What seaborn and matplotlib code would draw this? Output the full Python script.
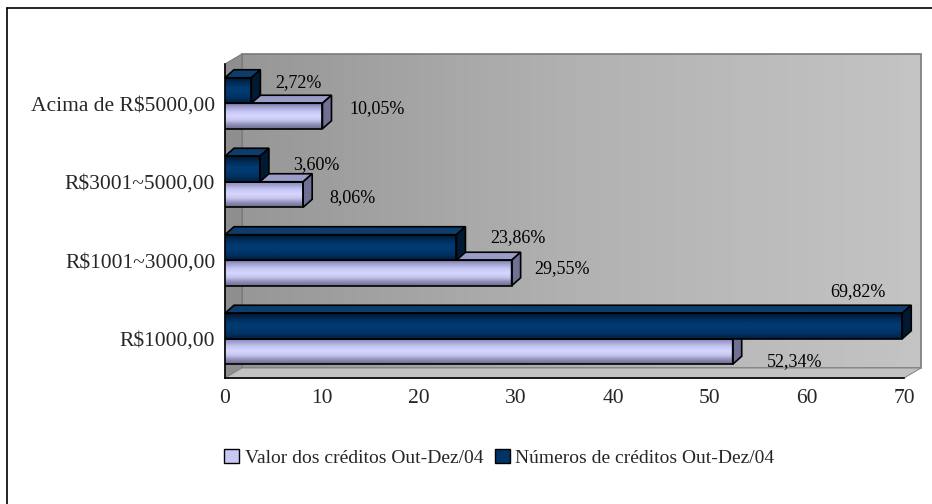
import numpy as np
import pandas as pd
import matplotlib
matplotlib.use("Agg")
import matplotlib.pyplot as plt
import seaborn as sns
from matplotlib.patches import Polygon, Rectangle, Patch
from matplotlib.colors import LinearSegmentedColormap
from matplotlib.transforms import IdentityTransform

# ---------------- data ----------------
categories = ["Acima de R$5000,00", "R$3001~5000,00", "R$1001~3000,00", "R$1000,00"]
series_valor = "Valor dos créditos Out-Dez/04"
series_numeros = "Números de créditos Out-Dez/04"
valor = [10.05, 8.06, 29.55, 52.34]
numeros = [2.72, 3.60, 23.86, 69.82]
valor_labels = ["10,05%", "8,06%", "29,55%", "52,34%"]
numeros_labels = ["2,72%", "3,60%", "23,86%", "69,82%"]
x_ticks = [0, 10, 20, 30, 40, 50, 60, 70]

df = pd.DataFrame({
    "cat": categories * 2,
    "val": numeros + valor,
    "serie": [series_numeros] * 4 + [series_valor] * 4,
})

# ---------------- style ----------------
sns.set_theme(style="white")
plt.rcParams["font.family"] = ["Liberation Serif", "DejaVu Serif"]

W, H, DPI = 932, 504, 100
fig = plt.figure(figsize=(W / DPI, H / DPI), dpi=DPI)
fig.patch.set_facecolor("white")

# plot-area geometry in pixels (image coords, y down)
AX_L, AX_R, AX_T, AX_B = 225, 904, 64, 378
DEPTH_X, DEPTH_Y = 17, 10

# background axes in pixel coordinates for 3D wall / floor
bg = fig.add_axes([0, 0, 1, 1], zorder=0)
bg.set_xlim(0, W)
bg.set_ylim(H, 0)
bg.axis("off")

wall_cmap = LinearSegmentedColormap.from_list("wall", ["#979797", "#b2b2b2", "#c4c4c4"])
grad = np.linspace(0, 1, 256).reshape(1, -1)
bg.imshow(grad, extent=[AX_L + DEPTH_X, AX_R + DEPTH_X, AX_B - DEPTH_Y, AX_T - DEPTH_Y],
          cmap=wall_cmap, aspect="auto", zorder=1)
bg.add_patch(Rectangle((AX_L + DEPTH_X, AX_T - DEPTH_Y), AX_R - AX_L, AX_B - AX_T,
                       fill=False, edgecolor="#7a7a7a", lw=1.2, zorder=2))
# left side wall
bg.add_patch(Polygon([(AX_L, AX_T), (AX_L + DEPTH_X, AX_T - DEPTH_Y),
                      (AX_L + DEPTH_X, AX_B - DEPTH_Y), (AX_L, AX_B)],
                     closed=True, facecolor="#8e8e8e", edgecolor="#7a7a7a", lw=0.8, zorder=2))
# floor
bg.add_patch(Polygon([(AX_L, AX_B), (AX_R, AX_B), (AX_R + DEPTH_X, AX_B - DEPTH_Y),
                      (AX_L + DEPTH_X, AX_B - DEPTH_Y)],
                     closed=True, facecolor="#c2c2c2", edgecolor="#8a8a8a", lw=0.8, zorder=2))
# chart-area border (top and left)
bg.plot([7, W], [8, 8], color="black", lw=1.2, zorder=3)
bg.plot([7, 7], [8, H], color="black", lw=1.2, zorder=3)

# main axes
ax = fig.add_axes([AX_L / W, 1 - AX_B / H, (AX_R - AX_L) / W, (AX_B - AX_T) / H], zorder=1)
ax.patch.set_visible(False)

light = "#c8c8f5"
dark = "#003366"
sns.barplot(data=df, y="cat", x="val", hue="serie", order=categories,
            hue_order=[series_numeros, series_valor],
            palette=[dark, light], width=0.65, orient="h", ax=ax,
            legend=False, edgecolor="black", linewidth=1.2, saturation=1)

ax.set_xlim(0, 70)
ax.set_ylim(3.5, -0.5)
ax.set_xticks(x_ticks)
ax.set_xticklabels([str(t) for t in x_ticks], fontsize=15.5)
ax.set_yticks(range(len(categories)))
ax.set_yticklabels(categories, fontsize=15.5)
ax.set_yticks(np.arange(-0.5, len(categories), 1.0), minor=True)
ax.tick_params(axis="y", which="major", length=0, pad=7)
ax.tick_params(axis="y", which="minor", length=6, width=1, color="black", direction="out")
ax.tick_params(axis="x", which="major", length=5, width=1, color="black", direction="out", pad=3)
ax.set_xlabel("")
ax.set_ylabel("")
for s in ["top", "right"]:
    ax.spines[s].set_visible(False)
for s in ["left", "bottom"]:
    ax.spines[s].set_color("black")
    ax.spines[s].set_linewidth(1.2)
ax.grid(False)

light_cmap = LinearSegmentedColormap.from_list(
    "lb", ["#7e7eaa", "#a6a6d6", "#c8c8f6", "#d6d6ff", "#c4c4ee", "#9090b8", "#6c6c90"])
dark_cmap = LinearSegmentedColormap.from_list(
    "db", ["#00152c", "#002a55", "#003a70", "#003a72", "#00315f", "#001f3f"])

vgrad = np.linspace(0, 1, 64).reshape(-1, 1)
BX, BY = 9, 8  # bar depth in pixels

bars = list(ax.patches)
fig.canvas.draw()
ident = IdentityTransform()

for p in bars:
    x0, y0, w, h = p.get_x(), p.get_y(), p.get_width(), p.get_height()
    if w <= 0:
        continue
    yc = y0 + h / 2
    is_dark = yc < np.round(yc)  # upper bar in each category (smaller y)
    z = 4 if is_dark else 3
    cmap = dark_cmap if is_dark else light_cmap
    p.set_zorder(z + 0.2)
    p.set_facecolor("none")
    im = ax.imshow(vgrad, extent=[x0, x0 + w, y0 + h, y0], cmap=cmap, aspect="auto",
                   origin="upper", zorder=z + 0.1, interpolation="bilinear")
    im.set_clip_path(p)
    (dx0, dyb), (dx1, dyt) = ax.transData.transform([(x0, y0 + h), (x0 + w, y0)])
    top_col = "#0d3d6c" if is_dark else "#9c9cc8"
    side_col = "#001a33" if is_dark else "#707094"
    top = Polygon([(dx0, dyt), (dx1, dyt), (dx1 + BX, dyt + BY), (dx0 + BX, dyt + BY)],
                  closed=True, transform=ident, facecolor=top_col, edgecolor="black",
                  lw=1.2, zorder=z + 0.15, clip_on=False)
    side = Polygon([(dx1, dyb), (dx1, dyt), (dx1 + BX, dyt + BY), (dx1 + BX, dyb + BY)],
                   closed=True, transform=ident, facecolor=side_col, edgecolor="black",
                   lw=1.2, zorder=z + 0.15, clip_on=False)
    ax.add_patch(top)
    ax.add_patch(side)

ax.set_xlim(0, 70)
ax.set_ylim(3.5, -0.5)

# ---------------- data labels ----------------
px_per_unit = (AX_R - AX_L) / 70.0
cat_h = (AX_B - AX_T) / len(categories)
off_dark = [(24, -7.5), (33, -4), (34, -10), (-72, -34.5)]
off_light = [(26.5, -7), (26, 3), (22.7, -4.5), (34, 10.5)]
for i in range(len(categories)):
    yc = AX_T + cat_h * (i + 0.5)
    for vals, labs, offs, sgn in [(numeros, numeros_labels, off_dark, -1),
                                  (valor, valor_labels, off_light, 1)]:
        bx = AX_L + vals[i] * px_per_unit + offs[i][0]
        by = yc + sgn * 0.1625 * cat_h + offs[i][1]
        fig.text(bx / W, 1 - by / H, labs[i], fontsize=13, ha="left", va="center",
                 color="black", zorder=10)

# ---------------- legend ----------------
handles = [Patch(facecolor=light, edgecolor="black", lw=1),
           Patch(facecolor=dark, edgecolor="black", lw=1)]
fig.legend(handles, [series_valor, series_numeros], loc="center",
           bbox_to_anchor=(499.5 / W, 1 - 458 / H), ncol=2, frameon=False, fontsize=14,
           handlelength=0.75, handleheight=0.75, handletextpad=0.3, columnspacing=0.6)

fig.savefig("out.png", dpi=DPI, facecolor="white")
